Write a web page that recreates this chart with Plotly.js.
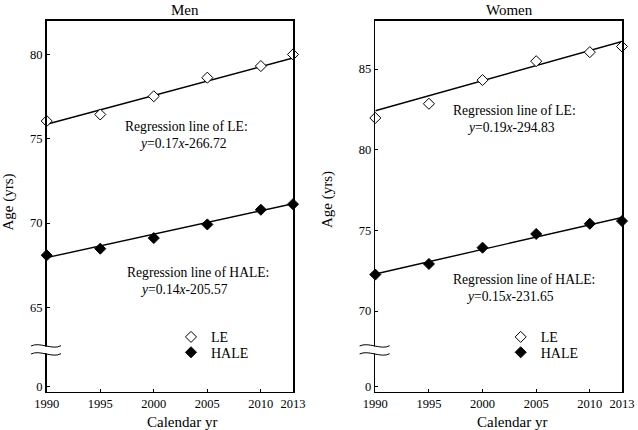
<!DOCTYPE html>
<html><head><meta charset="utf-8">
<script src="https://cdn.plot.ly/plotly-3.0.1.min.js"></script>
<style>html,body{margin:0;padding:0;background:#fff}</style>
</head><body><div id="chart" style="width:638px;height:430px"></div>
<script>
// ---- data ----
const years = [1990, 1995, 2000, 2005, 2010, 2013];
const menLE = [76.05, 76.44, 77.52, 78.62, 79.31, 80.00];
const menHALE = [68.09, 68.48, 69.11, 69.92, 70.79, 71.12];
const womenLE = [81.97, 82.85, 84.32, 85.49, 86.05, 86.40];
const womenHALE = [72.26, 72.92, 73.93, 74.78, 75.41, 75.58];
// regression lines (end points)
const fitYears = [1990, 2013];
const menLEFit = [75.86, 79.79];
const menHALEFit = [67.95, 71.15];
const womenLEFit = [82.42, 86.71];
const womenHALEFit = [72.30, 75.80];
// ticks
const xTickVals = [1990, 1995, 2000, 2005, 2010, 2013];
const xTickText = ['1990', '1995', '2000', '2005', '2010', '2013'];
const menYTickText = ['0', '65', '70', '75', '80'];
const womenYTickText = ['0', '70', '75', '80', '85'];
const menYTickVals = [60.3, 65, 70, 75, 80];     // "0" sits below the axis break
const womenYTickVals = [65.3, 70, 75, 80, 85];
const panelTitles = ['Men', 'Women'];
const menEq = ['Regression line of LE:', '<i>y</i>=0.17<i>x</i>-266.72', 'Regression line of HALE:', '<i>y</i>=0.14<i>x</i>-205.57'];
const womenEq = ['Regression line of LE:', '<i>y</i>=0.19<i>x</i>-294.83', 'Regression line of HALE:', '<i>y</i>=0.15<i>x</i>-231.65'];

// ---- helpers ----
const W = 638, H = 430;
const fx = p => p / W;
const fy = p => 1 - p / H;
const FONT = "'Liberation Serif', 'Times New Roman', serif";

function markerTrace(x, y, xa, ya, name, filled, legend) {
  return {
    x: x, y: y, xaxis: xa, yaxis: ya, type: 'scatter', mode: 'markers',
    name: name, legend: legend, cliponaxis: false,
    marker: { symbol: 'diamond', size: 8.5, color: filled ? '#000' : '#fff',
              line: { color: '#000', width: 1 } }
  };
}
function lineTrace(x, y, xa, ya) {
  return {
    x: x, y: y, xaxis: xa, yaxis: ya, type: 'scatter', mode: 'lines',
    showlegend: false, hoverinfo: 'skip', cliponaxis: false,
    line: { color: '#000', width: 1.4 }
  };
}

const data = [
  lineTrace(fitYears, menLEFit, 'x', 'y'),
  lineTrace(fitYears, menHALEFit, 'x', 'y'),
  lineTrace(fitYears, womenLEFit, 'x2', 'y2'),
  lineTrace(fitYears, womenHALEFit, 'x2', 'y2'),
  markerTrace(years, menLE, 'x', 'y', 'LE', false, 'legend'),
  markerTrace(years, menHALE, 'x', 'y', 'HALE', true, 'legend2'),
  markerTrace(years, womenLE, 'x2', 'y2', 'LE', false, 'legend3'),
  markerTrace(years, womenHALE, 'x2', 'y2', 'HALE', true, 'legend4')
];

const axisCommon = {
  showline: true, mirror: true, linecolor: '#000', linewidth: 1.6,
  showgrid: false, zeroline: false, ticks: 'inside', ticklen: 3,
  tickwidth: 1, tickcolor: '#000', fixedrange: true,
  tickfont: { family: FONT, size: 12.5, color: '#000' }
};
const yDom = [fy(391.7), fy(20.7)];

function legendAt(px, py) {
  return { x: fx(px), y: fy(py), xanchor: 'left', yanchor: 'middle',
           bgcolor: 'rgba(0,0,0,0)', borderwidth: 0,
           font: { family: FONT, size: 14, color: '#000' } };
}

function ann(text, px, py, xanchor, size, extra) {
  return Object.assign({ text: text, x: fx(px), y: fy(py), xref: 'paper', yref: 'paper',
    xanchor: xanchor, yanchor: 'middle', showarrow: false,
    font: { family: FONT, size: size, color: '#000' } }, extra || {});
}

const annotations = [
  ann(panelTitles[0], 184.5, 9.5, 'center', 15),
  ann(panelTitles[1], 510, 9.5, 'center', 15),
  ann('Calendar yr', 182, 421.5, 'center', 15),
  ann('Calendar yr', 512, 421.5, 'center', 15),
  ann('Age (yrs)', 7.5, 202, 'center', 15, { textangle: -90 }),
  ann('Age (yrs)', 327, 199, 'center', 15, { textangle: -90 }),
  ann(menEq[0], 122.7, 126, 'left', 13.6),
  ann(menEq[1], 136.7, 143.3, 'left', 13.6),
  ann(menEq[2], 125, 272.7, 'left', 13.6),
  ann(menEq[3], 138.3, 289, 'left', 13.6),
  ann(womenEq[0], 451.3, 110.7, 'left', 13.6),
  ann(womenEq[1], 464.7, 127.7, 'left', 13.6),
  ann(womenEq[2], 450.7, 279.3, 'left', 13.6),
  ann(womenEq[3], 463.7, 296, 'left', 13.6)
];

// axis break marks
function breakShapes(axisPx) {
  const p = (x, y) => fx(x) + ',' + fy(y);
  const curve = (y0) => 'M' + p(axisPx - 15.7, y0) + ' C' + p(axisPx - 7, y0 - 4.5) + ' ' +
    p(axisPx + 6, y0 + 4.5) + ' ' + p(axisPx + 14.3, y0 - 0.3);
  return [
    { type: 'rect', xref: 'paper', yref: 'paper', layer: 'above',
      x0: fx(axisPx - 3), x1: fx(axisPx + 3), y0: fy(346.6), y1: fy(353.4),
      fillcolor: '#fff', line: { width: 0 } },
    { type: 'path', xref: 'paper', yref: 'paper', layer: 'above',
      path: curve(346), line: { color: '#000', width: 1 } },
    { type: 'path', xref: 'paper', yref: 'paper', layer: 'above',
      path: curve(354), line: { color: '#000', width: 1 } }
  ];
}

const layout = {
  width: W, height: H,
  margin: { l: 0, r: 0, t: 0, b: 0, autoexpand: false },
  paper_bgcolor: '#fff', plot_bgcolor: '#fff',
  font: { family: FONT, color: '#000' },
  xaxis: Object.assign({}, axisCommon, { domain: [fx(46.7), fx(293)], range: [1990, 2013],
    tickvals: xTickVals, ticktext: xTickText, anchor: 'y' }),
  yaxis: Object.assign({}, axisCommon, { domain: yDom, range: [60, 82],
    tickvals: menYTickVals, ticktext: menYTickText, anchor: 'x' }),
  xaxis2: Object.assign({}, axisCommon, { domain: [fx(375.3), fx(622)], range: [1990, 2013],
    tickvals: xTickVals, ticktext: xTickText, anchor: 'y2' }),
  yaxis2: Object.assign({}, axisCommon, { domain: yDom, range: [65, 88],
    tickvals: womenYTickVals, ticktext: womenYTickText, anchor: 'x2' }),
  legend: legendAt(171, 337.3),
  legend2: legendAt(171, 352.7),
  legend3: legendAt(500.7, 337.3),
  legend4: legendAt(500.7, 352.7),
  annotations: annotations,
  shapes: breakShapes(46.7).concat(breakShapes(375.3))
};

Plotly.newPlot('chart', data, layout, { staticPlot: true, displayModeBar: false });
</script>
</body></html>
